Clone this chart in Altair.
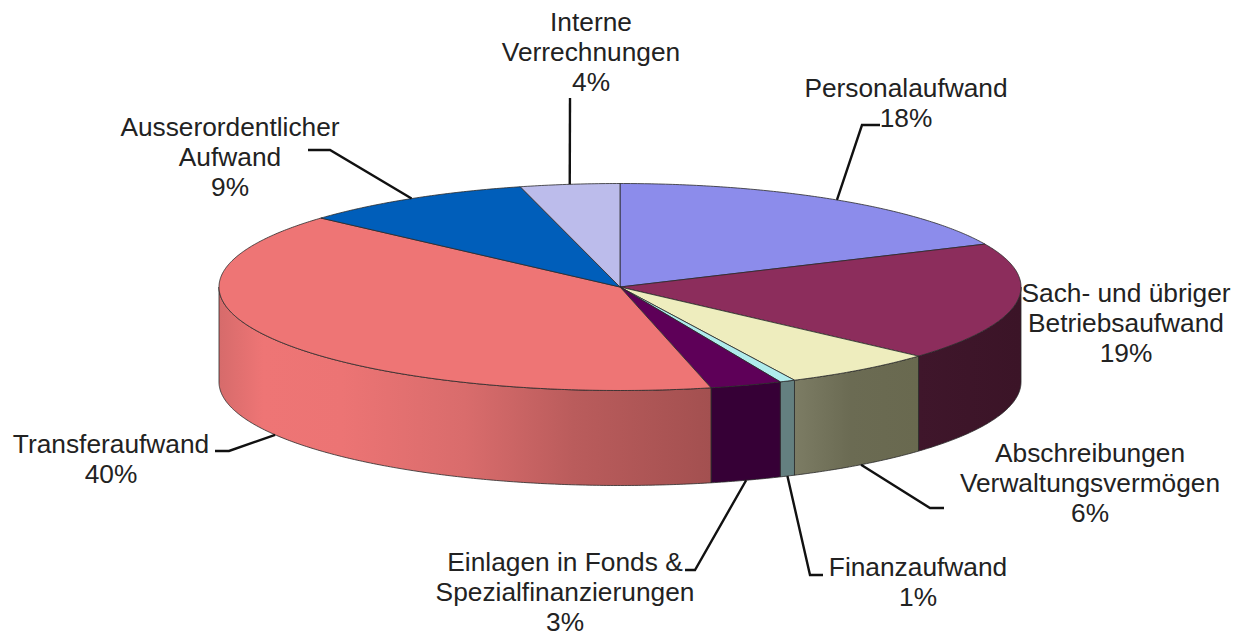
import math
import altair as alt
import pandas as pd

# --- data ---
categories = ["Personalaufwand", "Sach- und übriger Betriebsaufwand",
              "Abschreibungen Verwaltungsvermögen", "Finanzaufwand",
              "Einlagen in Fonds & Spezialfinanzierungen", "Transferaufwand",
              "Ausserordentlicher Aufwand", "Interne Verrechnungen"]
shares = [18.2, 18.44, 6.2, 0.62, 2.9, 40.25, 9.4, 4.0]
percent_labels = ["18%", "19%", "6%", "1%", "3%", "40%", "9%", "4%"]
label_lines = [["Personalaufwand", "18%"],
               ["Sach- und übriger", "Betriebsaufwand", "19%"],
               ["Abschreibungen", "Verwaltungsvermögen", "6%"],
               ["Finanzaufwand", "1%"],
               ["Einlagen in Fonds &", "Spezialfinanzierungen", "3%"],
               ["Transferaufwand", "40%"],
               ["Ausserordentlicher", "Aufwand", "9%"],
               ["Interne", "Verrechnungen", "4%"]]

# --- styles and layout (page pixels) ---
top_colors = ["#8C8CEB", "#8C2D5C", "#EEEDBE", "#B0ECEC", "#5E0058", "#EE7575", "#005EBA", "#BCBCEB"]
side_stops = [
    None,
    [("#3F162B", 0), ("#3B1427", 1)],
    [("#7C7C64", 0), ("#6B6B53", 0.45), ("#69694F", 1)],
    [("#648080", 0), ("#648080", 1)],
    [("#360036", 0), ("#360036", 1)],
    [("#D66B6B", 0), ("#EE7575", 0.09), ("#EC7474", 0.25), ("#D96C6C", 0.5), ("#BA5C5C", 0.72), ("#A35050", 1)],
    None,
    None,
]
CX, CY, RX, RY, DEPTH = 620, 287, 401, 103.5, 95
FS, LH = 26.3, 30
label_x = [906, 1126, 1090, 918, 565, 111, 230, 591]
label_y = [89, 294, 454, 568, 563, 445, 128, 23]
# elbow points of the leader lines, from the slice outwards
elbows = [[(862, 125), (880, 125)],
          [],
          [(930, 508), (944, 508)],
          [(810, 575), (823, 575)],
          [(695, 570), (685, 570)],
          [(229, 451), (215, 451)],
          [(330, 150), (308, 150)],
          [(570, 98)]]

SX = alt.Scale(domain=[8, 1234], nice=False, zero=False)
SY = alt.Scale(domain=[637, 8], nice=False, zero=False)
X = alt.X("x:Q", axis=None, scale=SX)
Y = alt.Y("y:Q", axis=None, scale=SY)


def pt(a, drop=0.0):
    r = math.radians(a)
    return CX + RX * math.sin(r), CY - RY * math.cos(r) + drop


def arc(a0, a1, drop=0.0):
    n = max(2, int(abs(a1 - a0) * 2) + 1)
    return [pt(a0 + (a1 - a0) * i / (n - 1), drop) for i in range(n)]


def poly(points, fill, stroke, sw):
    pts = list(points) + [points[0]]
    df = pd.DataFrame({"x": [p[0] for p in pts], "y": [p[1] for p in pts], "i": range(len(pts))})
    return alt.Chart(df).mark_line(fill=fill, stroke=stroke, strokeWidth=sw, strokeJoin="round", interpolate="linear").encode(
        x=X, y=Y, order=alt.Order("i:Q"))


total = sum(shares)
edges = [0.0]
for s in shares:
    edges.append(edges[-1] + s / total * 360)

side_layers, top_layers, leader_layers = [], [], []
for k, name in enumerate(categories):
    a0, a1 = edges[k], edges[k + 1]
    if side_stops[k] is not None:
        s0, s1 = max(a0, 90), min(a1, 270)
        fill = alt.Gradient(gradient="linear", x1=0, x2=1, y1=0, y2=0,
                            stops=[alt.GradientStop(color=c, offset=o) for c, o in side_stops[k]])
        side_layers.append(poly(arc(s0, s1) + arc(s1, s0, DEPTH), fill, "#2A2A2A", 0.8))
    top_layers.append(poly([(CX, CY)] + arc(a0, a1), top_colors[k], "#2A2A2A", 0.8))

    mid = (a0 + a1) / 2
    front = 90 < mid < 270
    anchor = pt(mid, DEPTH if front else 0)
    chain = [anchor] + elbows[k]
    if len(chain) > 1:
        df = pd.DataFrame({"x": [p[0] for p in chain], "y": [p[1] for p in chain], "i": range(len(chain))})
        leader_layers.append(alt.Chart(df).mark_line(color="#111111", strokeWidth=2.4, strokeJoin="miter").encode(
            x=X, y=Y, order=alt.Order("i:Q")))

rows = []
for k, lines in enumerate(label_lines):
    for j, t in enumerate(lines):
        rows.append({"x": label_x[k], "y": label_y[k] + j * LH, "t": t})
text_layer = alt.Chart(pd.DataFrame(rows)).mark_text(
    font="Liberation Sans", fontSize=FS, color="#222222", align="center", baseline="middle"
).encode(x=X, y=Y, text="t:N")

chart = alt.layer(*side_layers, *top_layers, *leader_layers, text_layer).properties(
    width=1226, height=629, padding=0, autosize=alt.AutoSizeParams(type="none"), background="white"
).configure_view(stroke=None)

chart.save("out.html", embed_options={"renderer": "svg", "actions": False})
